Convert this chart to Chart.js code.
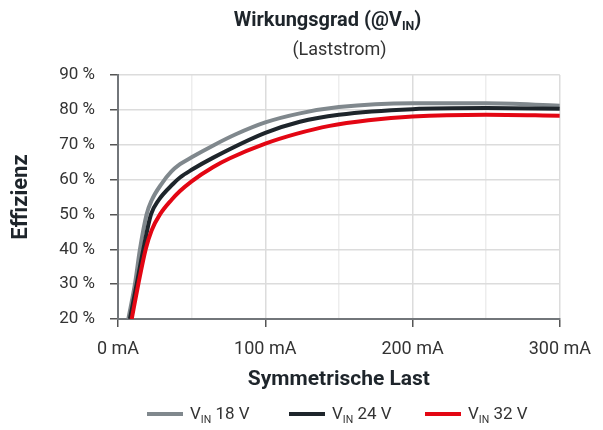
<!DOCTYPE html>
<html>
<head>
<meta charset="utf-8">
<script src="https://cdn.jsdelivr.net/npm/chart.js@4/dist/chart.umd.min.js"></script>
<style>
    body { margin: 0; background: #fff; font-family: Roboto, sans-serif; color: #1e252b; }
    #wrap { position: relative; width: 603px; height: 430px; }
    #wrap canvas { position: absolute; left: 0; top: 0; }
    .title { position: absolute; left: 0; width: 603px; text-align: center; white-space: nowrap; }
    #t1 { top: 7px; left: 26px; font-size: 20px; font-weight: bold; }
    #t2 { top: 38px; left: 38px; font-size: 18px; color: #333; }
    sub { font-size: 62%; vertical-align: -0.35em; line-height: 0; }
    #legend { position: absolute; top: 403px; left: 0; width: 603px; font-size: 17px; color: #333; }
    .item { position: absolute; top: 0; white-space: nowrap; }
    .item i { display: inline-block; width: 36px; height: 4px; vertical-align: middle; margin-right: 7px; position: relative; top: -1px; }
</style>
</head>
<body>
<div id="wrap">
    <canvas id="effChart" width="603" height="430"></canvas>
    <div class="title" id="t1">Wirkungsgrad (@V<sub>IN</sub>)</div>
    <div class="title" id="t2">(Laststrom)</div>
    <div id="legend"></div>
</div>
<script>
// values
const seriesNames = ['18 V', '24 V', '32 V'];
const seriesColors = ['#80888d', '#1e252b', '#e30613'];

const load18 = [7, 11.5, 14.9, 19.4, 22.8, 29.6, 36, 42.1, 50, 64.7, 80, 100, 123.5, 150, 200, 250, 300];
const eff18 = [20, 30, 40, 50, 54, 58.8, 62.2, 64.4, 66.4, 69.8, 73, 76.4, 79, 80.8, 81.9, 81.9, 81.2];

const load24 = [8.1, 12.7, 17.2, 22.4, 27.4, 37.5, 42.1, 50, 64.7, 100, 123.5, 150, 200, 250, 300];
const eff24 = [20, 30, 40, 50, 54, 58.8, 60.6, 62.8, 66.3, 73.4, 76.6, 78.6, 80.2, 80.5, 80.3];

const load32 = [9.3, 13.8, 18.8, 22.8, 28.5, 36.4, 42.1, 50, 64.7, 76, 100, 121, 143.7, 170, 200, 250, 300];
const eff32 = [20, 30, 40, 45.4, 50, 54.2, 56.7, 59.5, 63.6, 66.1, 70.3, 73.1, 75.4, 77, 78.1, 78.6, 78.3];

const loads = [load18, load24, load32];
const effs = [eff18, eff24, eff32];

const datasets = seriesNames.map((name, i) => ({
    label: 'VIN ' + name,
    data: loads[i].map((x, k) => ({ x: x, y: effs[i][k] })),
    borderColor: seriesColors[i],
    borderWidth: 4,
    pointRadius: 0,
    fill: false,
    cubicInterpolationMode: 'monotone',
    order: 3 - i
}));

// html legend so the subscript can be kept
const legendX = [147, 289, 425];
const legend = document.getElementById('legend');
seriesNames.forEach((name, i) => {
    const el = document.createElement('div');
    el.className = 'item';
    el.style.left = legendX[i] + 'px';
    el.innerHTML = '<i style="background:' + seriesColors[i] + '"></i>V<sub>IN</sub> ' + name;
    legend.appendChild(el);
});

const ctx = document.getElementById('effChart').getContext('2d');
const effChart = new Chart(ctx, {
    type: 'line',
    data: { datasets: datasets },
    options: {
        responsive: false,
        animation: false,
        layout: { padding: { top: 75, left: 6, right: 42, bottom: 38 } },
        plugins: { legend: { display: false }, tooltip: { enabled: false } },
        scales: {
            x: {
                type: 'linear',
                min: 0,
                max: 300,
                afterFit: (scale) => { scale.height = 73; },
                ticks: {
                    stepSize: 50,
                    padding: 12,
                    color: '#333',
                    font: { family: 'Roboto', size: 18 },
                    callback: (v) => v % 100 === 0 ? v + ' mA' : ''
                },
                grid: {
                    color: (c) => c.tick && c.tick.value % 100 === 0 ? '#dcdcdc' : '#ededed',
                    tickColor: (c) => c.tick && c.tick.value % 100 === 0 ? '#555' : 'rgba(0,0,0,0)',
                    tickLength: 8,
                    lineWidth: 1.5
                },
                border: { color: '#72767a', width: 2 },
                title: {
                    display: true,
                    text: 'Symmetrische Last',
                    color: '#1e252b',
                    font: { family: 'Roboto', size: 21, weight: 'bold' },
                    padding: 0
                }
            },
            y: {
                min: 20,
                max: 90,
                afterFit: (scale) => { scale.width = 112; },
                ticks: {
                    stepSize: 10,
                    padding: 15,
                    color: '#333',
                    font: { family: 'Roboto', size: 17 },
                    callback: (v) => v + ' %'
                },
                grid: {
                    color: '#dcdcdc',
                    tickColor: '#555',
                    tickLength: 8,
                    lineWidth: 1.5
                },
                border: { color: '#72767a', width: 2 },
                title: {
                    display: true,
                    text: 'Effizienz',
                    color: '#1e252b',
                    font: { family: 'Roboto', size: 22, weight: 'bold' },
                    padding: { top: 2, bottom: 0 }
                }
            }
        }
    }
});
</script>
</body>
</html>
